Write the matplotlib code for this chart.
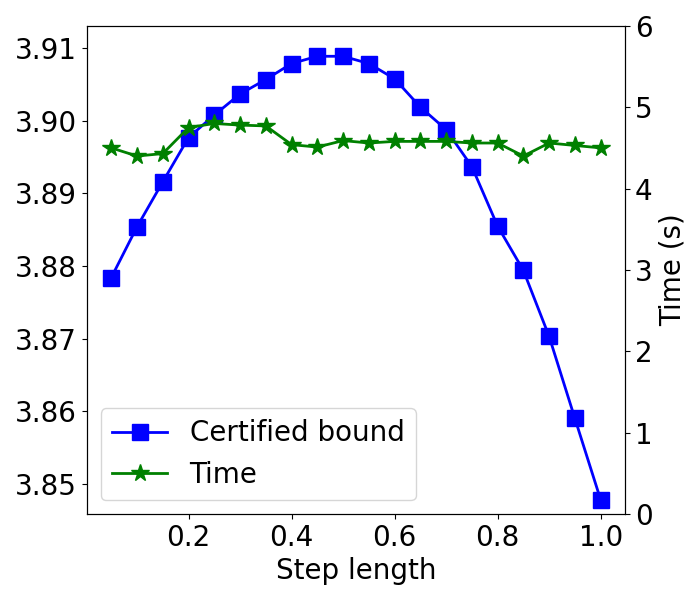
import matplotlib
matplotlib.use("Agg")
import matplotlib.pyplot as plt

step = [0.05, 0.1, 0.15, 0.2, 0.25, 0.3, 0.35, 0.4, 0.45, 0.5,
        0.55, 0.6, 0.65, 0.7, 0.75, 0.8, 0.85, 0.9, 0.95, 1.0]
bound = [3.8784, 3.8854, 3.8916, 3.8977, 3.9008, 3.9037, 3.9057, 3.9079, 3.9089, 3.9089,
         3.9079, 3.9058, 3.9019, 3.8988, 3.8937, 3.8855, 3.8794, 3.8703, 3.8590, 3.8478]
time_s = [4.50, 4.40, 4.43, 4.75, 4.80, 4.78, 4.77, 4.54, 4.51, 4.59,
          4.56, 4.58, 4.58, 4.58, 4.56, 4.56, 4.40, 4.56, 4.53, 4.50]

plt.rcParams['font.size'] = 20
fig, ax = plt.subplots(figsize=(7, 6), dpi=100)
fig.subplots_adjust(left=0.124, right=0.893, top=0.957, bottom=0.143)
l1, = ax.plot(step, bound, color='blue', marker='s', markersize=12, linewidth=2, label='Certified bound')
ax.set_ylim(3.8458, 3.9131)
ax.set_xlabel('Step length')
ax2 = ax.twinx()
l2, = ax2.plot(step, time_s, color='green', marker='*', markersize=13, linewidth=2, label='Time')
ax2.set_ylim(0, 6)
ax2.set_ylabel('Time (s)')
ax.legend(handles=[l1, l2], loc='lower left')
fig.savefig('out.png')
